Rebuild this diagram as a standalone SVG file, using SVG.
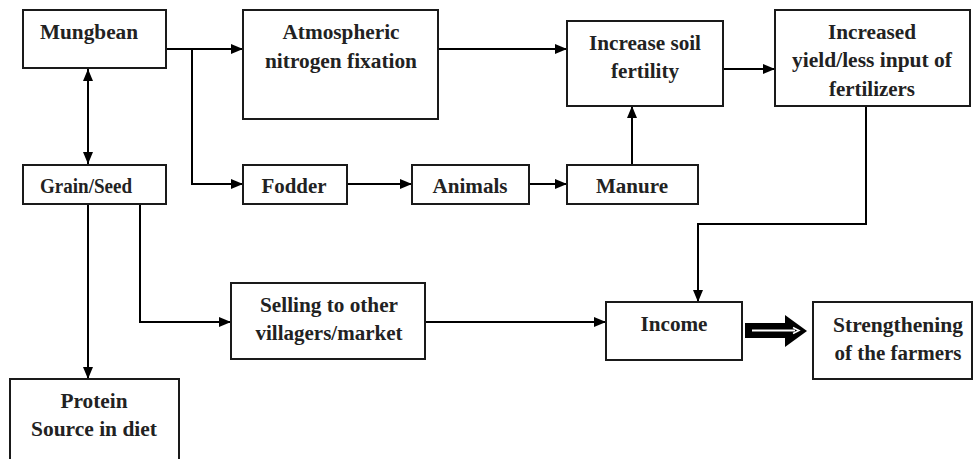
<svg xmlns="http://www.w3.org/2000/svg" width="973" height="459" viewBox="0 0 973 459">
<style>
rect.b{fill:#fff;stroke:#1a1a1a;stroke-width:2}
text{font-weight:bold;font-size:20px;fill:#222;text-anchor:middle}
.c path.l{fill:none;stroke:#000;stroke-width:2}
</style>
<defs>
<marker id="ah" viewBox="0 0 12 10" refX="12" refY="5" markerWidth="12" markerHeight="10" markerUnits="userSpaceOnUse" orient="auto-start-reverse">
<path d="M0,0L12,5L0,10Z" fill="#000"/>
</marker>
</defs>
<rect width="973" height="459" fill="#fff"/>
<g class="c" id="connectors">
<path class="l" d="M88,69V164" marker-start="url(#ah)" marker-end="url(#ah)"/>
<path class="l" d="M166,49H243" marker-end="url(#ah)"/>
<path class="l" d="M192,49V184H243" marker-end="url(#ah)"/>
<path class="l" d="M438,49H567" marker-end="url(#ah)"/>
<path class="l" d="M723,69H775" marker-end="url(#ah)"/>
<path class="l" d="M347,184H412" marker-end="url(#ah)"/>
<path class="l" d="M529,184H567" marker-end="url(#ah)"/>
<path class="l" d="M632,165V106" marker-end="url(#ah)"/>
<path class="l" d="M866,106V224H698V302" marker-end="url(#ah)"/>
<path class="l" d="M88,204V379" marker-end="url(#ah)"/>
<path class="l" d="M140,204V322H231" marker-end="url(#ah)"/>
<path class="l" d="M425,322H606" marker-end="url(#ah)"/>
<g id="block-arrow">
<path d="M745,323H785V315L807,331L785,347V338H745Z" fill="#000"/>
<path d="M752,330.5H795" fill="none" stroke="#fff" stroke-width="2"/>
<path d="M793,327.5L799,330.5L793,333.5" fill="none" stroke="#fff" stroke-width="1.5"/>
</g>
</g>
<g font-family="Liberation Serif, DejaVu Serif, serif">
<g id="mungbean"><rect class="b" x="23" y="10" width="143" height="58"/><text x="89" y="39" textLength="98" lengthAdjust="spacingAndGlyphs">Mungbean</text></g>
<g id="atmospheric"><rect class="b" x="243" y="10" width="195" height="109"/><text x="341" y="39" textLength="117" lengthAdjust="spacingAndGlyphs">Atmospheric</text><text x="341" y="68" textLength="152" lengthAdjust="spacingAndGlyphs">nitrogen fixation</text></g>
<g id="soil"><rect class="b" x="567" y="21" width="156" height="85"/><text x="645" y="50" textLength="112" lengthAdjust="spacingAndGlyphs">Increase soil</text><text x="645" y="78" textLength="68" lengthAdjust="spacingAndGlyphs">fertility</text></g>
<g id="yield"><rect class="b" x="775" y="10" width="195" height="96"/><text x="872" y="39" textLength="88" lengthAdjust="spacingAndGlyphs">Increased</text><text x="872" y="67" textLength="160" lengthAdjust="spacingAndGlyphs">yield/less input of</text><text x="872" y="96" textLength="86" lengthAdjust="spacingAndGlyphs">fertilizers</text></g>
<g id="grain"><rect class="b" x="23" y="165" width="143" height="39"/><text x="86" y="193" textLength="92" lengthAdjust="spacingAndGlyphs">Grain/Seed</text></g>
<g id="fodder"><rect class="b" x="243" y="165" width="104" height="39"/><text x="294" y="193" textLength="65" lengthAdjust="spacingAndGlyphs">Fodder</text></g>
<g id="animals"><rect class="b" x="412" y="165" width="117" height="39"/><text x="470" y="193" textLength="75" lengthAdjust="spacingAndGlyphs">Animals</text></g>
<g id="manure"><rect class="b" x="567" y="165" width="131" height="39"/><text x="632" y="193" textLength="72" lengthAdjust="spacingAndGlyphs">Manure</text></g>
<g id="selling"><rect class="b" x="231" y="283" width="194" height="76"/><text x="329" y="312" textLength="138" lengthAdjust="spacingAndGlyphs">Selling to other</text><text x="329" y="340" textLength="147" lengthAdjust="spacingAndGlyphs">villagers/market</text></g>
<g id="income"><rect class="b" x="606" y="302" width="136" height="58"/><text x="674" y="331" textLength="67" lengthAdjust="spacingAndGlyphs">Income</text></g>
<g id="strengthening"><rect class="b" x="813" y="302" width="159" height="77"/><text x="898" y="332" textLength="130" lengthAdjust="spacingAndGlyphs">Strengthening</text><text x="898" y="360" textLength="127" lengthAdjust="spacingAndGlyphs">of the farmers</text></g>
<g id="protein"><rect class="b" x="10" y="379" width="169" height="90"/><text x="94" y="408" textLength="67" lengthAdjust="spacingAndGlyphs">Protein</text><text x="94" y="436" textLength="126" lengthAdjust="spacingAndGlyphs">Source in diet</text></g>
</g>
</svg>
